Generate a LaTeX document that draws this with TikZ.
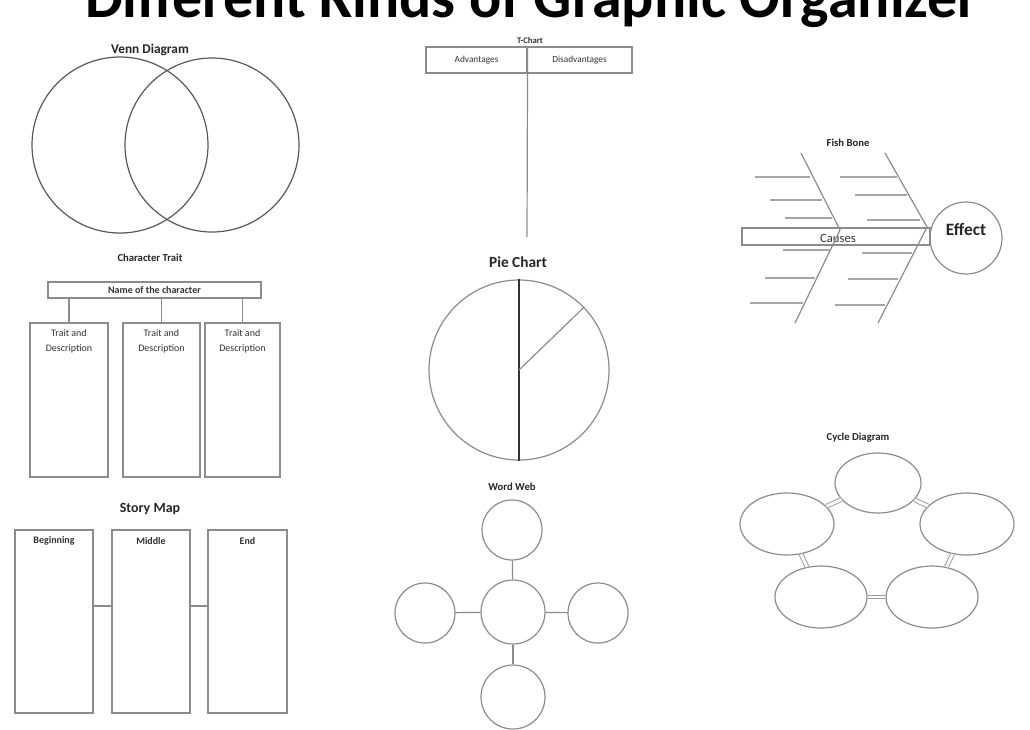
\documentclass[tikz,border=0pt]{standalone}
\usepackage{fontspec}
\setmainfont{Carlito}
\usetikzlibrary{shapes.geometric}
\begin{document}
\begin{tikzpicture}[x=0.75pt,y=-0.75pt,
  ln/.style={draw=black!45, line width=0.9pt},
  dk/.style={draw=black!65, line width=0.9pt},
  lbl/.style={text=black!80, font=\fontsize{8}{9.5}\selectfont, inner sep=0pt, align=center},
  head/.style={text=black!85, font=\bfseries\fontsize{8}{9.5}\selectfont, inner sep=0pt},
  bighead/.style={text=black!85, font=\bfseries\fontsize{11}{13}\selectfont, inner sep=0pt},
  ring/.style={ln, circle, inner sep=0pt, minimum size=#1},
  cell/.style={ln, rectangle, inner sep=0pt},
  oval/.style={ln, ellipse, inner sep=0pt},
  link/.style={draw=black!40, line width=0.7pt, double=white, double distance=2.2pt}]
\useasboundingbox (0,0) rectangle (1030,729);
\clip (0,0) rectangle (1030,729);
\fill[white] (0,0) rectangle (1030,729);

% page heading, running off the top edge
\node[anchor=base, font=\bfseries\fontsize{45}{48}\selectfont, inner sep=0pt] (title) at (532,17) {Different Kinds of Graphic Organizer};

% Venn diagram
\node[head, font=\bfseries\fontsize{10}{12}\selectfont] (venntitle) at (150,50) {Venn Diagram};
\node[ring=132pt, dk] (vennA) at (120,145) {};
\node[ring=130.5pt, dk] (vennB) at (212,145) {};

% T-chart
\node[lbl, font=\bfseries\fontsize{6.5}{8}\selectfont] (ttitle) at (530,40) {T-Chart};
\node[cell, minimum width=75.75pt, minimum height=19.5pt, font=\fontsize{7}{8}\selectfont, text=black!80] (adv) at (476.5,60) {Advantages};
\node[cell, minimum width=78.75pt, minimum height=19.5pt, font=\fontsize{7}{8}\selectfont, text=black!80] (dis) at (579.5,60) {Disadvantages};
\coordinate (tfoot) at (527,237);
\draw[ln] (adv.north east) -- (tfoot);

% Pie chart
\node[bighead, font=\bfseries\fontsize{11.5}{13}\selectfont] (pietitle) at (518,262) {Pie Chart};
\node[ring=135pt] (pie) at (519,370) {};
\draw[draw=black!80, line width=1pt] (pie.north) -- (pie.south);
\draw[ln] (pie.center) -- (pie.44);

% Fish bone
\node[head] (fishtitle) at (848,143) {Fish Bone};
\node[cell, minimum width=141pt, minimum height=12.75pt] (causes) at (836,236.5) {};
\node[lbl, font=\fontsize{9.5}{11}\selectfont] (causestxt) at (838,238) {Causes};
\node[ring=54pt] (effect) at (966,238) {};
\node[text=black!85, font=\bfseries\fontsize{13}{15}\selectfont, inner sep=0pt] (effecttxt) at (966,229) {Effect};
\coordinate (lsTop) at (801,153);
\coordinate (lsMid) at (840,230);
\coordinate (lsBot) at (795,323);
\coordinate (rsTop) at (885,153);
\coordinate (rsMid) at (927,227);
\coordinate (rsBot) at (878,323);
\draw[ln] (lsTop) -- (lsMid) -- (lsBot);
\draw[ln] (rsTop) -- (rsMid) -- (rsBot);
\foreach \y/\a/\b in {177/755/810, 200/770/822, 218/785/832, 250/783/830, 278/765/815, 303/750/803,
                      177/840/897, 195/855/907, 220/867/920, 253/862/912, 279/848/898, 305/835/885}
  \draw[draw=black!35, line width=0.8pt] (\a,\y) -- (\b,\y);

% Character trait
\node[head] (traittitle) at (150,258) {Character Trait};
\node[cell, minimum width=159.75pt, minimum height=12pt] (name) at (154.5,290) {};
\node[lbl, font=\bfseries\fontsize{7.5}{9}\selectfont] (nametxt) at (154.5,290) {Name of the character};
\node[cell, minimum width=58.5pt, minimum height=115.5pt] (t1) at (69,400) {};
\node[cell, minimum width=57.75pt, minimum height=115.5pt] (t2) at (161.5,400) {};
\node[cell, minimum width=56.25pt, minimum height=115.5pt] (t3) at (242.5,400) {};
\foreach \t in {t1,t2,t3}{
  \node[lbl, anchor=north, font=\fontsize{7.5}{11.5}\selectfont] (\t txt) at ([yshift=-5pt]\t.north) {Trait and\\Description};
  \draw[ln] (name.south -| \t.north) -- (\t.north);
}

% Story map
\node[bighead, font=\bfseries\fontsize{10.5}{12}\selectfont] (storytitle) at (150,509) {Story Map};
\node[cell, minimum width=58.5pt, minimum height=137.25pt] (s1) at (54,621.5) {};
\node[cell, minimum width=58.5pt, minimum height=137.25pt] (s2) at (151,621.5) {};
\node[cell, minimum width=59.25pt, minimum height=137.25pt] (s3) at (247.5,621.5) {};
\node[lbl, font=\bfseries\fontsize{7.5}{9}\selectfont] (s1txt) at (54,541) {Beginning};
\node[lbl, font=\bfseries\fontsize{7.5}{9}\selectfont] (s2txt) at (151,541) {Middle};
\node[lbl, font=\bfseries\fontsize{7.5}{9}\selectfont] (s3txt) at (247.5,541) {End};
\draw[ln] ([yshift=11.6pt]s1.east) -- ([yshift=11.6pt]s2.west);
\draw[ln] ([yshift=11.6pt]s2.east) -- ([yshift=11.6pt]s3.west);

% Word web
\node[head] (webtitle) at (512,487) {Word Web};
\node[ring=48pt] (wc) at (513,612) {};
\node[ring=45pt] (wt) at (512,530) {};
\node[ring=45pt] (wl) at (425,613) {};
\node[ring=45pt] (wr) at (598,613) {};
\node[ring=48pt] (wb) at (513,697) {};
\foreach \o in {wt,wl,wr,wb}
  \draw[ln] (wc) -- (\o);

% Cycle diagram
\node[head] (cycletitle) at (858,438) {Cycle Diagram};
\node[oval, minimum width=64.5pt, minimum height=45pt] (ct) at (878,483) {};
\node[oval, minimum width=70.5pt, minimum height=46.5pt] (cl) at (787,524) {};
\node[oval, minimum width=70.5pt, minimum height=46.5pt] (cr) at (967,524) {};
\node[oval, minimum width=69pt, minimum height=46.5pt] (cbl) at (821,597) {};
\node[oval, minimum width=69pt, minimum height=46.5pt] (cbr) at (932,597) {};
\draw[link] (ct) -- (cr);
\draw[link] (cr) -- (cbr);
\draw[link] (cbr) -- (cbl);
\draw[link] (cbl) -- (cl);
\draw[link] (cl) -- (ct);
\end{tikzpicture}
\end{document}
